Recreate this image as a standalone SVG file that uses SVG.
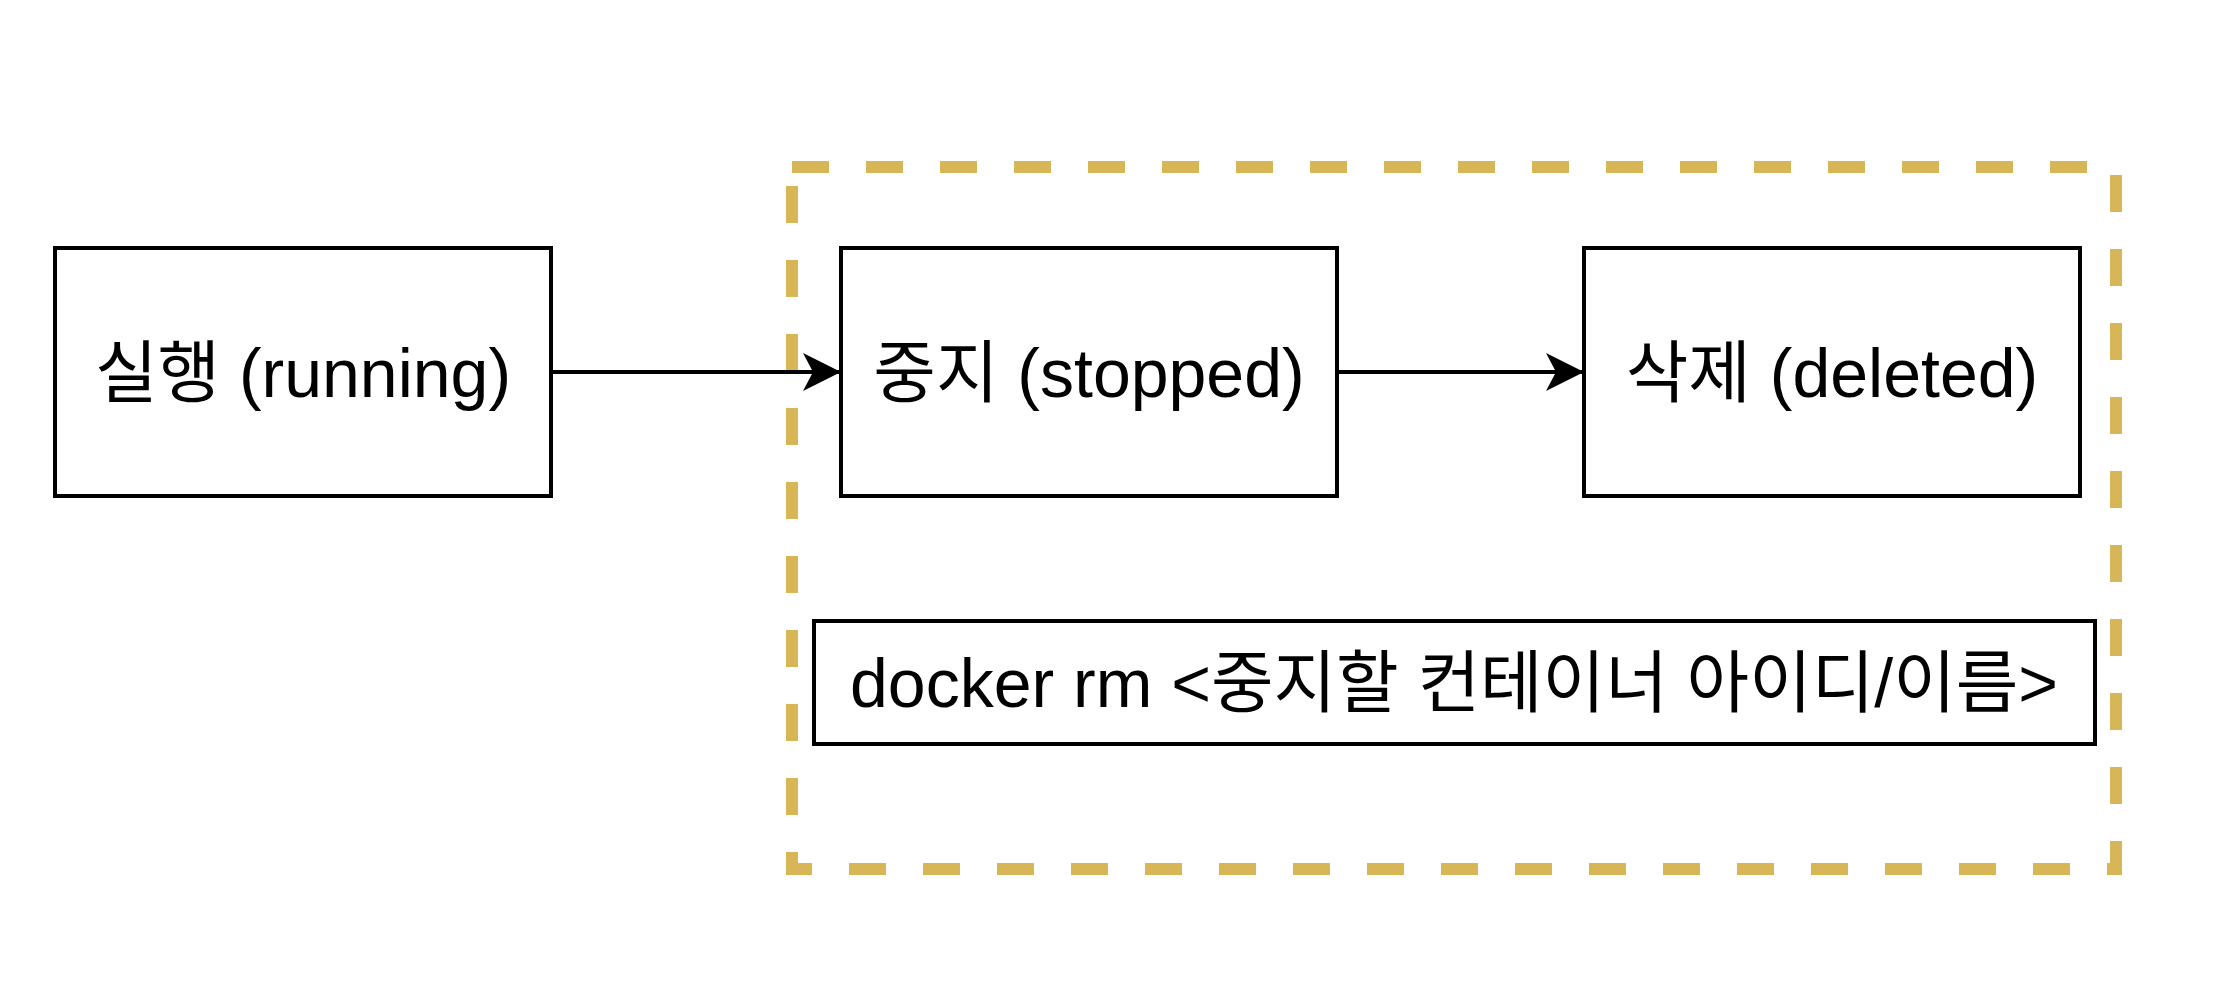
<svg xmlns="http://www.w3.org/2000/svg" width="2223" height="1000" viewBox="0 0 2223 1000">
<style>
.box{fill:#fff;stroke:#000;stroke-width:4}
.lbl{font-family:"Liberation Sans","Noto Sans CJK KR",sans-serif;font-size:68px;fill:#000;text-anchor:middle}
.edge{stroke:#000;stroke-width:4;fill:none}
</style>
<defs>
<marker id="arr" markerUnits="userSpaceOnUse" markerWidth="40" markerHeight="40" refX="38" refY="19" orient="auto" viewBox="0 0 40 40">
<path d="M0,0 L38,19 L0,38 L10,19 Z" fill="#000"/>
</marker>
</defs>
<rect width="2223" height="1000" fill="#fff"/>
<g id="group-container">
<rect x="792" y="167" width="1324" height="702" fill="none" stroke="#d6b656" stroke-width="12" stroke-dasharray="37 37"/>
</g>
<g id="node-running">
<rect class="box" x="55" y="248" width="496" height="248"/>
<text class="lbl" x="303" y="397">실행 (running)</text>
</g>
<g id="node-stopped">
<rect class="box" x="841" y="248" width="496" height="248"/>
<text class="lbl" x="1089" y="397">중지 (stopped)</text>
</g>
<g id="node-deleted">
<rect class="box" x="1584" y="248" width="496" height="248"/>
<text class="lbl" x="1832" y="397">삭제 (deleted)</text>
</g>
<g id="node-command">
<rect class="box" x="814" y="621" width="1281" height="123"/>
<text class="lbl" x="1454" y="707">docker rm &lt;중지할 컨테이너 아이디/이름&gt;</text>
</g>
<g id="connectors">
<line class="edge" x1="551" y1="372" x2="841" y2="372" marker-end="url(#arr)"/>
<line class="edge" x1="1337" y1="372" x2="1584" y2="372" marker-end="url(#arr)"/>
</g>
</svg>
